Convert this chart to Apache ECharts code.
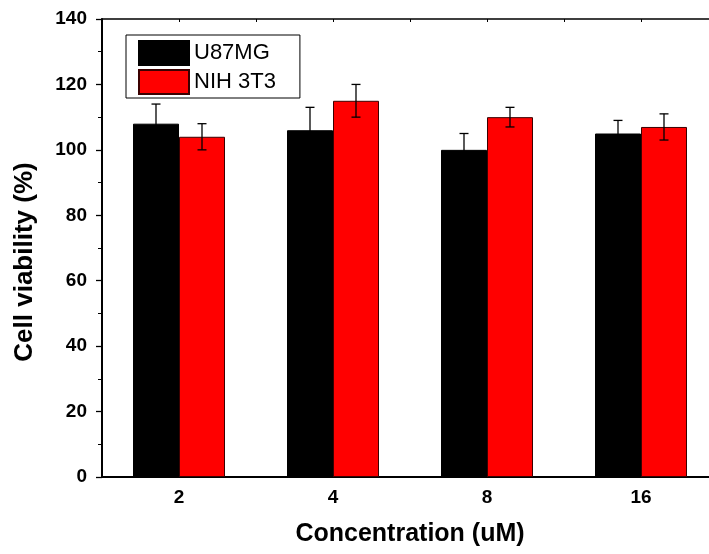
<!DOCTYPE html>
<html lang="en" style="height: 100%">
<head>
  <meta charset="utf-8">
</head>
<body style="height: 100%; margin: 0; background: #fff">
  <div id="container" style="width: 709px; height: 554px"></div>

  <script type="text/javascript" src="https://cdn.jsdelivr.net/npm/echarts@6/dist/echarts.min.js"></script>
  <script type="text/javascript">
    // concentrations (uM)
    var categories = ['2', '4', '8', '16'];
    var u87Values = [108, 106, 100, 105];
    var u87Err = [6, 7, 5, 4];
    var nihValues = [104, 115, 110, 107];
    var nihErr = [4, 5, 3, 4];
    var yTicks = [0, 20, 40, 60, 80, 100, 120, 140];

    var BAR_W = 46;
    var font = 'Liberation Sans, Arial, sans-serif';

    var dom = document.getElementById('container');
    var myChart = echarts.init(dom, null, { renderer: 'canvas' });

    function errData(vals, errs) {
      return vals.map(function (v, i) {
        return [i, v - errs[i], v + errs[i]];
      });
    }

    function errRender(offset) {
      return function (params, api) {
        var lo = api.coord([api.value(0), api.value(1)]);
        var hi = api.coord([api.value(0), api.value(2)]);
        var x = lo[0] + offset;
        var cap = 4.5;
        var st = { stroke: '#000', lineWidth: 1.3 };
        return {
          type: 'group',
          children: [
            { type: 'line', shape: { x1: x, y1: lo[1], x2: x, y2: hi[1] }, style: st },
            { type: 'line', shape: { x1: x - cap, y1: hi[1], x2: x + cap, y2: hi[1] }, style: st },
            { type: 'line', shape: { x1: x - cap, y1: lo[1], x2: x + cap, y2: lo[1] }, style: st }
          ]
        };
      };
    }

    var option = {
      animation: false,
      backgroundColor: '#fff',
      // plot runs past the right edge of the picture (cropped figure)
      grid: { left: 102, top: 19, bottom: 77, width: 616, outerBoundsMode: 'none', containLabel: false },
      legend: {
        data: ['U87MG', 'NIH 3T3'],
        orient: 'vertical',
        left: 126,
        top: 35,
        padding: [5, 24, 3, 12],
        itemWidth: 50,
        itemHeight: 24,
        itemGap: 3,
        borderColor: '#000',
        borderWidth: 1,
        icon: 'rect',
        textStyle: { fontFamily: font, fontSize: 22, color: '#000' }
      },
      xAxis: [
        {
          type: 'category',
          data: categories,
          position: 'bottom',
          name: 'Concentration (uM)',
          nameLocation: 'middle',
          nameGap: 45,
          nameTextStyle: { fontFamily: font, fontSize: 25, fontWeight: 'bold', color: '#000' },
          axisLine: { lineStyle: { color: '#000', width: 2 } },
          axisTick: { show: false },
          axisLabel: { fontFamily: font, fontSize: 19, fontWeight: 'bold', color: '#000', margin: 11 }
        },
        {
          type: 'value',
          position: 'top',
          min: 0,
          max: 8,
          interval: 1,
          axisLine: { show: true, lineStyle: { color: '#000', width: 1.5 } },
          axisTick: { show: true, inside: true, length: 3, lineStyle: { color: '#000' } },
          axisLabel: { show: false },
          splitLine: { show: false }
        }
      ],
      yAxis: {
        type: 'value',
        min: yTicks[0],
        max: yTicks[yTicks.length - 1],
        interval: 20,
        name: 'Cell viability (%)',
        nameLocation: 'middle',
        nameGap: 64,
        nameTextStyle: { fontFamily: font, fontSize: 26, fontWeight: 'bold', color: '#000', padding: [0, 28, 0, 0] },
        axisLine: { show: true, lineStyle: { color: '#000', width: 2 } },
        axisTick: { show: true, length: 6, lineStyle: { color: '#000', width: 1.3 } },
        minorTick: { show: true, splitNumber: 2, length: 4, lineStyle: { color: '#000', width: 1 } },
        axisLabel: { fontFamily: font, fontSize: 19, fontWeight: 'bold', color: '#000', margin: 15 },
        splitLine: { show: false }
      },
      series: [
        {
          name: 'U87MG',
          type: 'bar',
          data: u87Values,
          barWidth: BAR_W,
          barGap: '0%',
          itemStyle: { color: '#000000', borderColor: '#000', borderWidth: 1 }
        },
        {
          name: 'NIH 3T3',
          type: 'bar',
          data: nihValues,
          barWidth: BAR_W,
          itemStyle: { color: '#ff0000', borderColor: '#3a0000', borderWidth: 1 }
        },
        {
          type: 'custom',
          data: errData(u87Values, u87Err),
          renderItem: errRender(-BAR_W / 2),
          z: 10,
          silent: true
        },
        {
          type: 'custom',
          data: errData(nihValues, nihErr),
          renderItem: errRender(BAR_W / 2),
          z: 10,
          silent: true
        }
      ]
    };

    myChart.setOption(option);
    window.addEventListener('resize', myChart.resize);
  </script>
</body>
</html>
